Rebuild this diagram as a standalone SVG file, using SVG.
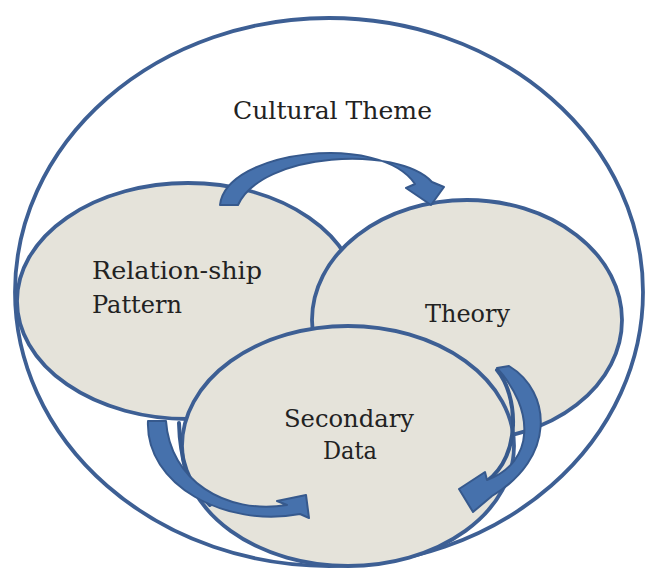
<svg xmlns="http://www.w3.org/2000/svg" width="646" height="569" viewBox="0 0 646 569">
<style>
.ell{stroke:#3d5f94;stroke-width:3.8}
.circ{fill:#e5e3da}
.lbl{font-family:"DejaVu Serif","Liberation Serif",serif;font-size:24.5px;fill:#222}
.arr{fill:#4671ac;stroke:#36598d;stroke-width:2;stroke-linejoin:round}
.back{fill:none;stroke:#36598d;stroke-width:4;stroke-linecap:round}
</style>
<rect width="646" height="569" fill="#ffffff"/>
<g id="cultural-theme">
<ellipse class="ell" cx="329" cy="292" rx="314" ry="274" fill="#ffffff"/>
<text class="lbl" x="233" y="119" textLength="199" lengthAdjust="spacingAndGlyphs">Cultural Theme</text>
</g>
<g id="relationship-pattern">
<ellipse class="ell circ" cx="188" cy="301" rx="171" ry="118"/>
<text class="lbl" x="92" y="279" textLength="170" lengthAdjust="spacingAndGlyphs">Relation-ship</text>
<text class="lbl" x="92" y="313" textLength="90" lengthAdjust="spacingAndGlyphs">Pattern</text>
</g>
<g id="theory">
<ellipse class="ell circ" cx="467" cy="320" rx="155" ry="120"/>
<text class="lbl" x="425" y="322" textLength="85" lengthAdjust="spacingAndGlyphs">Theory</text>
</g>
<g id="secondary-data">
<ellipse class="ell circ" cx="348" cy="446" rx="166" ry="120"/>
<text class="lbl" x="284" y="427" textLength="130" lengthAdjust="spacingAndGlyphs">Secondary</text>
<text class="lbl" x="323" y="459" textLength="54" lengthAdjust="spacingAndGlyphs">Data</text>
</g>
<g id="connectors">
<path class="arr" d="M220,205 C226,150 380,132 415,184 L406,188 L431,205 L444,187 L432,182 C398,145 262,152 238,205 Z"/>
<path class="back" d="M497,370 C518,395 522,455 487,481"/>
<path class="arr" d="M497,368 L509,366 C552,392 556,458 492,496 L473,512 L459,489 L485,472 L487,480 C535,462 535,410 497,368 Z"/>
<path class="back" d="M179,423 C180,460 188,485 210,505"/>
<path class="arr" d="M148,421 C145,485 225,528 300,514 L309,518 L306,495 L277,501 L287,505 C225,515 170,480 166,421 Z"/>
</g>
</svg>
